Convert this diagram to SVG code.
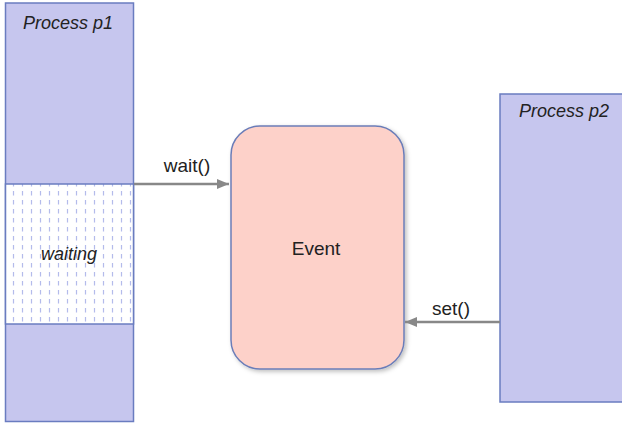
<svg xmlns="http://www.w3.org/2000/svg" width="622" height="424" viewBox="0 0 622 424">
<style>
.proc{fill:#c6c6ee;stroke:#6a7cc0;stroke-width:1.5}
.lbl{font-family:"Liberation Sans",Arial,sans-serif;font-size:19px;fill:#222}
.it{font-style:italic;font-size:18px}
.conn{stroke:#888;stroke-width:2.5;fill:none}
</style>
<defs>
<pattern id="dash" width="9" height="9" patternUnits="userSpaceOnUse">
<rect width="9" height="9" fill="#ffffff"/>
<line x1="4.5" y1="2" x2="4.5" y2="6.5" stroke="#b4bbeb" stroke-width="1.2"/>
</pattern>
<marker id="ah" markerWidth="12" markerHeight="10" refX="12" refY="5" orient="auto" markerUnits="userSpaceOnUse">
<path d="M0,0 L12,5 L0,10 Z" fill="#888"/>
</marker>
<filter id="sh" x="-10%" y="-10%" width="130%" height="130%">
<feDropShadow dx="2" dy="2" stdDeviation="2" flood-color="#000" flood-opacity="0.25"/>
</filter>
</defs>
<g id="p1">
<rect class="proc" x="5.5" y="3" width="128" height="418.5"/>
<rect x="5.5" y="184" width="128" height="140" fill="url(#dash)" stroke="#6a7cc0" stroke-width="1.5"/>
<text class="lbl it" x="68" y="29" text-anchor="middle">Process p1</text>
<text class="lbl it" x="69" y="260" text-anchor="middle">waiting</text>
</g>
<g id="event">
<rect x="231" y="126" width="173" height="243" rx="29" fill="#fdd1c9" stroke="#6b7db8" stroke-width="1.5" filter="url(#sh)"/>
<text class="lbl" x="316" y="255" text-anchor="middle">Event</text>
</g>
<g id="p2">
<rect class="proc" x="500" y="94" width="125" height="308"/>
<text class="lbl it" x="564" y="117" text-anchor="middle">Process p2</text>
</g>
<g id="connectors">
<line class="conn" x1="134" y1="184" x2="229" y2="184" marker-end="url(#ah)"/>
<text class="lbl" x="187" y="172" text-anchor="middle">wait()</text>
<line class="conn" x1="500" y1="322" x2="405" y2="322" marker-end="url(#ah)"/>
<text class="lbl" x="451" y="315" text-anchor="middle">set()</text>
</g>
</svg>
